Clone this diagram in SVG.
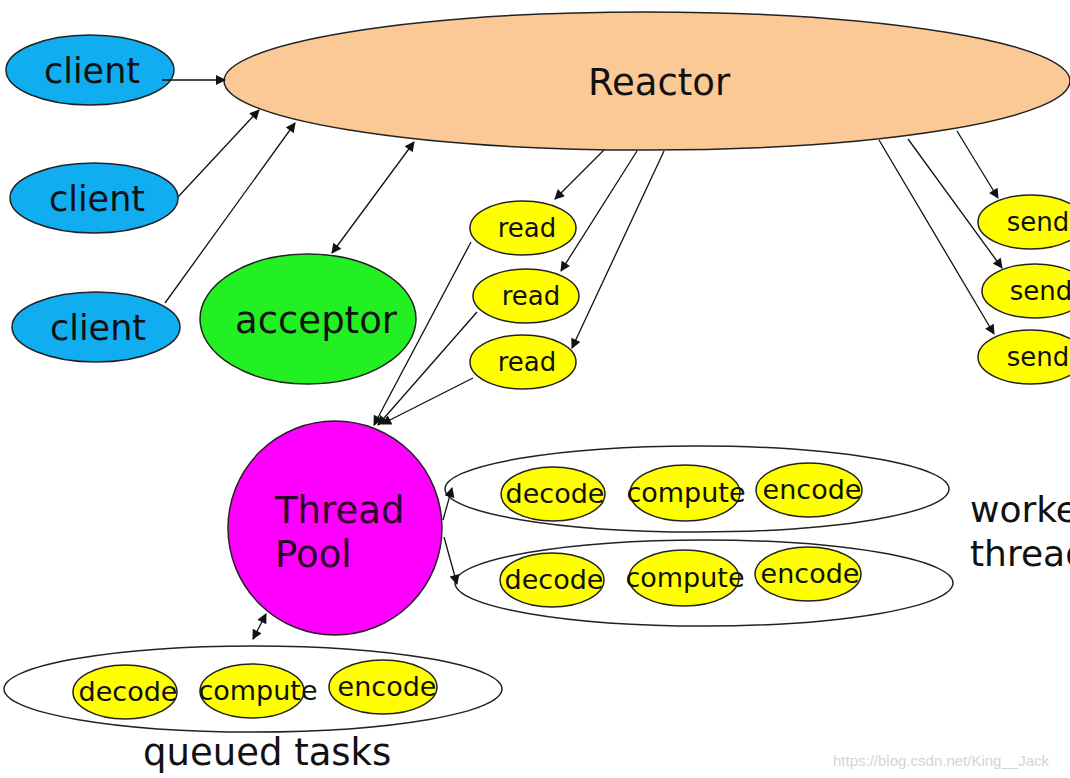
<svg xmlns="http://www.w3.org/2000/svg" width="1070" height="778" viewBox="0 0 1070 778">
<style>
.n{stroke:#222;stroke-width:1.5}
.t{font-family:"DejaVu Sans",sans-serif;fill:#111;text-anchor:middle}
.c{fill:#10aef0}
.y{fill:#ffff00}
.g{fill:none;stroke:#222;stroke-width:1.5}
.e{stroke:#111;stroke-width:1.3;fill:none}
</style>
<defs>
<marker id="a" viewBox="0 0 10 10" refX="9" refY="5" markerWidth="11" markerHeight="10" markerUnits="userSpaceOnUse" orient="auto-start-reverse"><path d="M0,0 L10,5 L0,10 z" fill="#111"/></marker>
</defs>
<rect width="1070" height="778" fill="#fff"/>
<g id="reactor"><ellipse class="n" cx="647" cy="81" rx="423" ry="69" fill="#fbc995"/><text class="t" x="659" y="95" font-size="37">Reactor</text></g>
<g id="client1"><ellipse class="n c" cx="90" cy="70" rx="84" ry="35"/><text class="t" x="92" y="83" font-size="35">client</text></g>
<g id="client2"><ellipse class="n c" cx="94" cy="198" rx="84" ry="35"/><text class="t" x="97" y="211" font-size="35">client</text></g>
<g id="client3"><ellipse class="n c" cx="96" cy="327" rx="84" ry="35"/><text class="t" x="98" y="340" font-size="35">client</text></g>
<g id="acceptor"><ellipse class="n" cx="308" cy="319" rx="108" ry="65" fill="#22f022"/><text class="t" x="316" y="333" font-size="37">acceptor</text></g>
<g id="read1"><ellipse class="n y" cx="523" cy="228" rx="53" ry="27"/><text class="t" x="527" y="237" font-size="26">read</text></g>
<g id="read2"><ellipse class="n y" cx="526" cy="296" rx="53" ry="27"/><text class="t" x="531" y="305" font-size="26">read</text></g>
<g id="read3"><ellipse class="n y" cx="523" cy="362" rx="53" ry="27"/><text class="t" x="527" y="371" font-size="26">read</text></g>
<g id="send1"><ellipse class="n y" cx="1031" cy="222" rx="53" ry="27"/><text class="t" x="1038" y="231" font-size="26">send</text></g>
<g id="send2"><ellipse class="n y" cx="1035" cy="291" rx="53" ry="27"/><text class="t" x="1041" y="300" font-size="26">send</text></g>
<g id="send3"><ellipse class="n y" cx="1031" cy="357" rx="53" ry="27"/><text class="t" x="1038" y="366" font-size="26">send</text></g>
<g id="threadpool"><circle class="n" cx="335" cy="528" r="107" fill="#ff00ff"/><text x="275" y="523" font-size="37" font-family="DejaVu Sans,sans-serif" fill="#2a002a">Thread</text><text x="275" y="567" font-size="37" font-family="DejaVu Sans,sans-serif" fill="#2a002a">Pool</text></g>
<g id="worker1"><ellipse class="g" cx="697" cy="489" rx="252" ry="43"/>
<ellipse class="n y" cx="553" cy="494" rx="52" ry="27"/><ellipse class="n y" cx="685" cy="493" rx="55" ry="28"/><ellipse class="n y" cx="809" cy="490" rx="53" ry="27"/>
<text class="t" x="555" y="503" font-size="27">decode</text><text class="t" x="686" y="502" font-size="27">compute</text><text class="t" x="812" y="499" font-size="27">encode</text></g>
<g id="worker2"><ellipse class="g" cx="704" cy="583" rx="249" ry="43"/>
<ellipse class="n y" cx="552" cy="580" rx="52" ry="27"/><ellipse class="n y" cx="684" cy="578" rx="55" ry="28"/><ellipse class="n y" cx="808" cy="574" rx="53" ry="27"/>
<text class="t" x="554" y="589" font-size="27">decode</text><text class="t" x="685" y="587" font-size="27">compute</text><text class="t" x="810" y="583" font-size="27">encode</text></g>
<g id="queue"><ellipse class="g" cx="253" cy="689" rx="249" ry="43"/>
<ellipse class="n y" cx="125" cy="692" rx="52" ry="27"/><ellipse class="n y" cx="252" cy="691" rx="52" ry="27"/><ellipse class="n y" cx="383" cy="687" rx="54" ry="27"/>
<text class="t" x="128" y="701" font-size="27">decode</text><text class="t" x="258" y="700" font-size="27">compute</text><text class="t" x="387" y="696" font-size="27">encode</text></g>
<g id="labels">
<text x="143" y="765" font-size="37" font-family="DejaVu Sans,sans-serif" fill="#111">queued tasks</text>
<text x="970" y="522" font-size="36" font-family="DejaVu Sans,sans-serif" fill="#111">worker</text>
<text x="970" y="566" font-size="36" font-family="DejaVu Sans,sans-serif" fill="#111">threads</text>
<text x="833" y="766" font-size="15" font-family="Liberation Sans,sans-serif" fill="#d4d4d4">https://blog.csdn.net/King__Jack</text>
</g>
<g id="connectors">
<line class="e" x1="162" y1="80" x2="225" y2="80" marker-end="url(#a)"/>
<line class="e" x1="178" y1="197" x2="259" y2="110" marker-end="url(#a)"/>
<line class="e" x1="165" y1="303" x2="295" y2="123" marker-end="url(#a)"/>
<line class="e" x1="414" y1="142" x2="332" y2="253" marker-start="url(#a)" marker-end="url(#a)"/>
<line class="e" x1="604" y1="150" x2="555" y2="199" marker-end="url(#a)"/>
<line class="e" x1="637" y1="151" x2="561" y2="271" marker-end="url(#a)"/>
<line class="e" x1="664" y1="151" x2="572" y2="348" marker-end="url(#a)"/>
<line class="e" x1="957" y1="131" x2="998" y2="198" marker-end="url(#a)"/>
<line class="e" x1="908" y1="139" x2="1002" y2="268" marker-end="url(#a)"/>
<line class="e" x1="879" y1="140" x2="994" y2="334" marker-end="url(#a)"/>
<line class="e" x1="471" y1="242" x2="374" y2="425" marker-end="url(#a)"/>
<line class="e" x1="477" y1="312" x2="378" y2="425" marker-end="url(#a)"/>
<line class="e" x1="473" y1="378" x2="382" y2="424" marker-end="url(#a)"/>
<line class="e" x1="443" y1="520" x2="452" y2="488" marker-end="url(#a)"/>
<line class="e" x1="444" y1="537" x2="457" y2="584" marker-end="url(#a)"/>
<line class="e" x1="266" y1="614" x2="253" y2="639" marker-start="url(#a)" marker-end="url(#a)"/>
</g>
</svg>
